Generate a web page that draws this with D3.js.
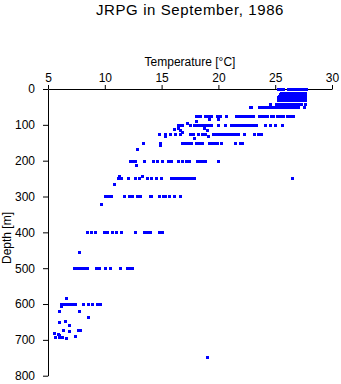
<!DOCTYPE html>
<html>
<head>
<meta charset="utf-8">
<script src="https://cdn.jsdelivr.net/npm/d3@7/dist/d3.min.js"></script>
<style>
  html, body { margin: 0; padding: 0; background: #fff; }
  svg { display: block; font-family: "Liberation Sans", Arial, Helvetica, sans-serif; }
</style>
</head>
<body>
<svg id="chart" width="341" height="384"></svg>
<script>
// Temperature profiles, JRPG station, September 1986.
// Standard sampling depths [m] and temperatures [°C] observed at each.
const levelDepths = [1, 12, 16, 20, 24, 28, 32, 42, 51, 76, 101, 126, 151, 201, 250, 300, 400, 500, 600];
const levelTemps = [
  [25.25, 25.5, 25.75, 26.2, 26.45, 26.7, 26.95, 27.2, 27.45, 27.75],
  [25.55, 25.75, 26.0, 26.2, 26.4, 26.6, 26.8, 27.0, 27.2, 27.4, 27.65],
  [25.45, 25.65, 25.85, 26.05, 26.25, 26.45, 26.65, 26.85, 27.05, 27.25, 27.45, 27.65],
  [25.35, 25.55, 25.8, 26.0, 26.2, 26.4, 26.6, 26.8, 27.0, 27.2, 27.4, 27.65],
  [25.3, 25.5, 25.7, 25.9, 26.1, 26.3, 26.5, 26.7, 26.9, 27.1, 27.3, 27.5, 27.65],
  [25.25, 25.45, 25.65, 25.85, 26.05, 26.25, 26.45, 26.65, 26.85, 27.05, 27.25, 27.45, 27.65],
  [25.25, 25.5, 25.7, 25.9, 26.1, 26.3, 26.5, 26.7, 26.9, 27.1, 27.3, 27.5, 27.65],
  [24.6, 25.1, 25.35, 25.6, 25.85, 26.1, 26.35, 26.6, 26.85, 27.1, 27.35, 27.65],
  [22.8, 22.95, 23.6, 23.85, 24.1, 24.35, 24.6, 24.85, 25.1, 25.35, 25.6, 25.85, 26.1, 26.35, 26.6, 26.85, 27.05, 27.6],
  [18.05, 18.3, 18.45, 18.85, 19.1, 19.4, 19.9, 20.2, 20.7, 21.6, 21.85, 22.05, 22.2, 22.5, 22.7, 22.9, 23.1, 23.6, 23.85, 24.1, 24.35, 24.65, 24.85, 25.2, 25.45, 25.7, 26.1, 26.35, 26.6],
  [16.45, 16.65, 16.8, 17.55, 17.9, 18.15, 18.4, 18.65, 18.9, 19.15, 19.4, 20.0, 20.6, 21.15, 21.4, 21.65, 21.9, 22.15, 22.4, 22.65, 22.9, 23.15, 23.35, 24.15, 24.6, 25.0, 25.6],
  [14.85, 15.3, 15.8, 16.2, 16.7, 17.55, 17.8, 18.25, 18.6, 18.85, 19.55, 19.8, 20.05, 20.3, 20.55, 20.8, 21.05, 21.3, 21.55, 21.75, 22.3, 23.2, 23.5, 23.8],
  [13.45, 14.9, 16.85, 17.1, 17.35, 17.6, 18.05, 18.3, 18.6, 19.2, 19.45, 19.7, 19.95, 20.25, 21.5, 21.95, 22.15],
  [12.25, 12.5, 12.7, 13.5, 14.3, 14.6, 15.1, 15.6, 15.85, 16.45, 16.85, 17.2, 17.45, 18.15, 18.4, 18.65, 18.85, 20.0],
  [11.2, 11.45, 12.05, 12.7, 13.05, 13.75, 14.1, 14.55, 14.95, 15.85, 16.1, 16.35, 16.6, 16.85, 17.1, 17.35, 17.6, 17.9, 26.55],
  [10.05, 10.3, 10.6, 11.75, 12.2, 12.45, 12.9, 13.15, 14.0, 14.15, 14.8, 15.15, 15.3, 15.7, 16.1, 16.65],
  [8.5, 8.8, 9.2, 9.95, 10.2, 10.7, 11.05, 11.45, 12.7, 13.5, 13.75, 14.0, 14.8, 15.1],
  [7.35, 7.6, 7.85, 8.1, 8.3, 8.5, 9.25, 9.5, 10.05, 10.5, 11.4, 12.0, 12.2, 12.45],
  [6.2, 6.45, 6.7, 6.95, 7.2, 7.45, 8.15, 8.55, 8.9, 9.4, 9.6]
];

// Samples taken between the standard depths.
const extraDepths = [86, 85, 90, 95, 110, 110, 114, 115, 116, 120, 132, 132, 138, 158, 168, 214, 243, 245, 267, 323,
  455, 584, 608, 622, 622, 637, 650, 652, 659, 673, 674, 675, 677, 683, 684, 688, 691, 694, 693, 694, 695, 748];
const extraTemps = [19.25, 20.0, 18.1, 17.3, 16.5, 18.8, 16.1, 16.7, 19.0, 16.8, 15.3, 19.1, 17.9, 14.9, 12.9, 12.75, 11.3, 13.35, 10.85, 9.7,
  7.75, 6.6, 6.2, 6.0, 7.8, 8.6, 6.5, 6.0, 6.9, 6.4, 7.65, 7.9, 6.9, 5.6, 5.9, 6.05, 7.4, 5.7, 6.0, 6.25, 6.6, 19.0];

const tempTicks = [5, 10, 15, 20, 25, 30];
const depthTicks = [0, 100, 200, 300, 400, 500, 600, 700, 800];

const points = [];
levelDepths.forEach((d, i) => levelTemps[i].forEach(t => points.push({ t, d })));
extraDepths.forEach((d, i) => points.push({ t: extraTemps[i], d }));

const svg = d3.select("#chart");
const x = d3.scaleLinear().domain([5, 30]).range([48, 332]);
const y = d3.scaleLinear().domain([0, 800]).range([89, 375.7]);

// title
svg.append("text")
  .attr("x", 190).attr("y", 15)
  .attr("text-anchor", "middle")
  .attr("font-size", 15)
  .attr("letter-spacing", 0.6)
  .text("JRPG in September, 1986");

// temperature axis along the top
const xAxis = svg.append("g")
  .attr("transform", "translate(0,89)")
  .call(d3.axisTop(x).tickValues(tempTicks).tickSizeInner(4).tickSizeOuter(0).tickPadding(3));

// depth axis on the left
const yAxis = svg.append("g")
  .attr("transform", "translate(48,0)")
  .call(d3.axisLeft(y).tickValues(depthTicks).tickSizeInner(5).tickSizeOuter(0).tickPadding(8));

[xAxis, yAxis].forEach(g => {
  g.attr("font-family", null).attr("font-size", 12);
  g.selectAll("text").attr("fill", "#000");
  g.selectAll("line, path").attr("stroke", "#000");
});

svg.append("text")
  .attr("x", 190).attr("y", 66)
  .attr("text-anchor", "middle")
  .attr("font-size", 12)
  .text("Temperature [°C]");

svg.append("text")
  .attr("transform", "translate(10.5,238) rotate(-90)")
  .attr("text-anchor", "middle")
  .attr("font-size", 12)
  .text("Depth [m]");

// observations
svg.append("g")
  .attr("fill", "#0000ff")
  .attr("shape-rendering", "crispEdges")
  .selectAll("rect")
  .data(points)
  .join("rect")
  .attr("x", p => Math.round(x(p.t) - 1.5))
  .attr("y", p => Math.round(y(p.d) - 1.5))
  .attr("width", 3)
  .attr("height", 3);
</script>
</body>
</html>
